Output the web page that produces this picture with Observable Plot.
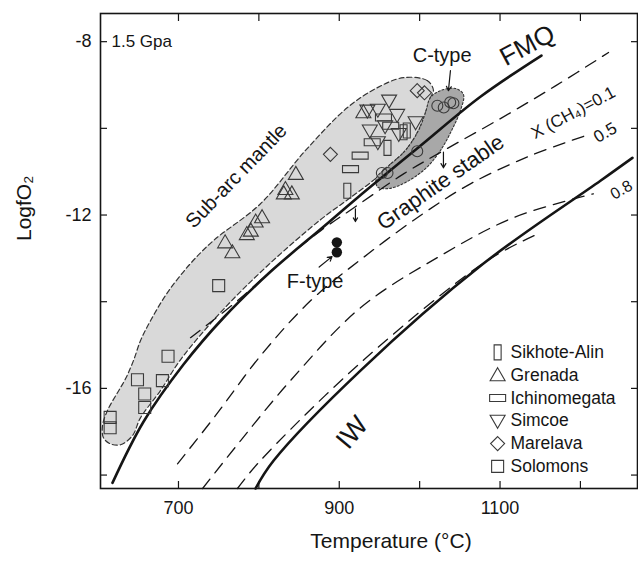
<!DOCTYPE html>
<html><head><meta charset="utf-8">
<script src="https://cdn.jsdelivr.net/npm/d3@7"></script>
<script src="https://cdn.jsdelivr.net/npm/@observablehq/plot@0.6"></script>
<style>body{margin:0;background:#fff;}</style>
</head><body><div id="chart"></div>
<script>
// ---- axes ----
const xDomain = [603, 1271];
const yDomain = [-18.31, -7.35];
const xTicks = [700, 800, 900, 1000, 1100, 1200];
const xLabels = [700, 900, 1100];
const yTicks = [-8, -10, -12, -14, -16, -18];
const yLabels = [-8, -12, -16];

// ---- data (Temperature °C, logfO2) ----
const solomons = [[615,-16.67],[615,-16.91],[649,-15.80],[658,-16.13],[658,-16.44],[680,-15.82],[687,-15.26],[750,-13.63]];
const grenada = [[758,-12.63],[767,-12.86],[785,-12.44],[790,-12.36],[796,-12.15],[804,-12.05],[831,-11.50],[833,-11.40],[841,-11.50],[846,-11.05],[930,-9.63]];
const simcoe = [[962,-9.36],[948,-9.57],[935,-9.59],[972,-9.69],[957,-9.95],[938,-10.05],[995,-9.86],[948,-10.32],[974,-10.13]];
const ichinomegata = [[955,-9.75],[964,-9.94],[941,-10.32],[926,-10.63],[914,-10.94]];
const sikhoteAlin = [[980,-10.09],[984,-10.05],[960,-10.45],[910,-11.44]];
const marelava = [[889,-10.60],[997,-9.13],[1006,-9.18]];
const cType = [[1022,-9.48],[1030,-9.52],[1038,-9.40],[1042,-9.42],[997,-10.53],[953,-11.03],[960,-11.03]];
const fType = [[897,-12.63],[897,-12.86]];

// ---- buffers and isopleths ----
const fmq = [[617.9,-18.18],[656.5,-16.77],[706.2,-15.45],[756,-14.37],[814.4,-13.31],[880.4,-12.27],[922.6,-11.60],[1001,-10.40],[1075.6,-9.27],[1151.5,-8.32]];
const iw = [[795.8,-18.31],[818.2,-17.67],[926.4,-15.59],[1079.4,-13.12],[1224.9,-11.21],[1264.7,-10.68]];
const xch4_01 = [[715,-14.83],[772,-14.0],[827,-13.1],[877,-12.36],[920,-11.81],[980,-11.05],[1030,-10.51],[1100,-9.78],[1169,-9.02],[1235,-8.25]];
const xch4_05 = [[698.8,-17.74],[746,-16.63],[802,-15.25],[864.2,-13.98],[930,-12.98],[1001,-12.01],[1063.2,-11.28],[1137.8,-10.63],[1206.2,-10.17]];
const xch4_08 = [[730,-18.31],[777.1,-17.21],[839.3,-15.82],[926.4,-14.14],[1025.9,-12.94],[1116.7,-12.06],[1216.2,-11.51]];
const ironLine = [[773.4,-18.31],[798.3,-17.74],[926.4,-15.41],[1084.3,-13.05],[1150.2,-12.41]];

// ---- fields ----
const subArc = [[1017.2,-9.13],[1009.7,-8.90],[979.9,-8.83],[947.5,-9.06],[910.2,-9.52],[858,-10.51],[802,-11.74],[743.5,-12.59],[714.9,-13.12],[686.3,-13.79],[665.2,-14.44],[652.7,-14.90],[644,-15.36],[634.1,-15.78],[624.1,-16.10],[611.7,-16.51],[605.5,-16.86],[606.7,-17.14],[615.4,-17.28],[627.9,-17.30],[642.8,-17.09],[652.7,-16.68],[677.6,-16.05],[702.5,-15.34],[752.2,-14.25],[810.7,-13.17],[876.6,-12.11],[913.9,-11.60],[946.3,-11.14],[957.5,-10.93],[982.3,-10.51],[998.5,-10.05],[1007.2,-9.64],[1013.4,-9.29]];
const cField = [[946.3,-11.14],[957.5,-10.93],[982.3,-10.51],[998.5,-10.05],[1007.2,-9.64],[1013.4,-9.29],[1025.9,-9.13],[1044.5,-9.08],[1054.5,-9.22],[1050.7,-9.59],[1040.8,-10.01],[1025.9,-10.51],[1007.2,-10.93],[982.3,-11.25],[961.2,-11.39],[947.5,-11.35]];

// ---- annotations ----
const annotations = [
  {text:"Sub-arc mantle", T:772, L:-11.1, rotate:-46, size:20},
  {text:"C-type", T:1028, L:-8.32, rotate:0, size:20},
  {text:"FMQ", T:1134, L:-8.09, rotate:-28, size:26},
  {text:"Graphite stable", T:1026, L:-11.25, rotate:-35, size:22},
  {text:"X (CH\u2084)=0.1", T:1191, L:-9.64, rotate:-28, size:17},
  {text:"0.5", T:1231, L:-10.1, rotate:-30, size:17},
  {text:"0.8", T:1251, L:-11.42, rotate:-30, size:16},
  {text:"IW", T:916, L:-17.02, rotate:-50, size:27},
  {text:"F-type", T:870, L:-13.54, rotate:0, size:20}
];
const arrows = [
  {T1:1038.3, L1:-8.67, T2:1035.8, L2:-9.13},
  {T1:875, L1:-13.2, T2:891, L2:-12.96},
  {T1:1029.6, L1:-10.55, T2:1029.6, L2:-10.91},
  {T1:920.1, L1:-11.86, T2:920.1, L2:-12.15}
];
const legendNames = ["Sikhote-Alin","Grenada","Ichinomegata","Simcoe","Marelava","Solomons"];

// ---- symbols ----
const triUp = {draw(c){c.moveTo(0,-7.5);c.lineTo(7.5,5.5);c.lineTo(-7.5,5.5);c.closePath();}};
const triDown = {draw(c){c.moveTo(0,7.5);c.lineTo(7.5,-5.5);c.lineTo(-7.5,-5.5);c.closePath();}};
const vRect = {draw(c){c.rect(-3.5,-7.5,7,15);}};
const hRect = {draw(c){c.rect(-8,-3.5,16,7);}};
const diamond = {draw(c){c.moveTo(0,-7);c.lineTo(7,0);c.lineTo(0,7);c.lineTo(-7,0);c.closePath();}};
const square = {draw(c){c.rect(-6,-6,12,12);}};
const ring = {draw(c){c.moveTo(5.5,0);c.arc(0,0,5.5,0,2*Math.PI);}};
const legendSyms = [vRect, triUp, hRect, triDown, diamond, square];

const ink = "#151515";
const mk = "#3a3a3a";
const font = "'Liberation Sans', Arial, Helvetica, sans-serif";

const pt = {x: d => d[0], y: d => d[1]};
const dotMark = (data, symbol) => Plot.dot(data, {...pt, symbol, r: 5, fill: "none", stroke: mk, strokeWidth: 1.1});

// legend layout in data units
const legT = 1097, legTextT = 1113, legL0 = -15.17, legStep = 0.526;

const chart = Plot.plot({
  width: 638, height: 561,
  marginLeft: 100, marginRight: 1, marginTop: 13, marginBottom: 73,
  x: {domain: xDomain, label: null},
  y: {domain: yDomain, label: null},
  style: {fontFamily: font, fontSize: "18px", color: ink, background: "white", overflow: "visible"},
  marks: [
    Plot.line(subArc, {...pt, curve: "catmull-rom-closed", fill: "#d9d9d9", stroke: "#333", strokeWidth: 1.2, strokeDasharray: "5,3"}),
    Plot.line(cField, {...pt, curve: "catmull-rom-closed", fill: "#a8a8a8", stroke: "#333", strokeWidth: 1.1, strokeDasharray: "2,2"}),
    Plot.line(xch4_01, {...pt, curve: "catmull-rom", stroke: ink, strokeWidth: 1.3, strokeDasharray: "12,8"}),
    Plot.line(xch4_05, {...pt, curve: "catmull-rom", stroke: ink, strokeWidth: 1.3, strokeDasharray: "12,8"}),
    Plot.line(xch4_08, {...pt, curve: "catmull-rom", stroke: ink, strokeWidth: 1.3, strokeDasharray: "12,8"}),
    Plot.line(ironLine, {...pt, curve: "catmull-rom", stroke: ink, strokeWidth: 1.3, strokeDasharray: "12,8"}),
    Plot.line(fmq, {...pt, curve: "catmull-rom", stroke: ink, strokeWidth: 2.6}),
    Plot.line(iw, {...pt, curve: "catmull-rom", stroke: ink, strokeWidth: 2.6}),
    dotMark(solomons, square),
    dotMark(grenada, triUp),
    dotMark(simcoe, triDown),
    dotMark(ichinomegata, hRect),
    dotMark(sikhoteAlin, vRect),
    dotMark(marelava, diamond),
    dotMark(cType, ring),
    Plot.dot(fType, {...pt, r: 5.2, fill: ink}),
    Plot.arrow(arrows, {x1: "T1", y1: "L1", x2: "T2", y2: "L2", stroke: ink, strokeWidth: 1.2, headLength: 6}),
    ...annotations.map(a => Plot.text([a], {x: "T", y: "L", text: "text", rotate: a.rotate, fontSize: a.size, fill: ink})),
    Plot.text(["1.5 Gpa"], {x: 616.7, y: -8, textAnchor: "start", fontSize: 17, fill: ink}),
    ...legendNames.map((n, i) => Plot.dot([i], {x: () => legT, y: () => legL0 - i * legStep, symbol: legendSyms[i], r: 5, fill: "none", stroke: mk, strokeWidth: 1.1})),
    Plot.text(legendNames, {x: () => legTextT, y: (d, i) => legL0 - i * legStep, text: d => d, textAnchor: "start", fontSize: 17.5, fill: ink}),
    // axes: inward ticks on all four sides, labels bottom/left
    Plot.axisX(xTicks, {anchor: "bottom", tickSize: -7, fill: "none", stroke: ink, strokeWidth: 1.2}),
    Plot.axisX(xTicks, {anchor: "top", tickSize: -7, fill: "none", stroke: ink, strokeWidth: 1.2}),
    Plot.axisY(yTicks, {anchor: "left", tickSize: -7, fill: "none", stroke: ink, strokeWidth: 1.2}),
    Plot.axisY(yTicks, {anchor: "right", tickSize: -7, fill: "none", stroke: ink, strokeWidth: 1.2}),
    Plot.axisX(xLabels, {anchor: "bottom", tickSize: 0, tickPadding: 13, fontSize: 18, fill: ink, tickFormat: d => String(d)}),
    Plot.axisY(yLabels, {anchor: "left", tickSize: 0, tickPadding: 9, fontSize: 18, fill: ink, tickFormat: d => String(d)}),
    Plot.frame({stroke: ink, strokeWidth: 1.6}),
    Plot.text(["Temperature (\u00B0C)"], {frameAnchor: "bottom", dx: 22, dy: 59, fontSize: 21, fill: ink}),
    Plot.text(["LogfO\u2082"], {frameAnchor: "left", dx: -76, dy: -10, rotate: -90, fontSize: 21, fill: ink})
  ]
});
document.getElementById("chart").appendChild(chart);
</script>
</body></html>
